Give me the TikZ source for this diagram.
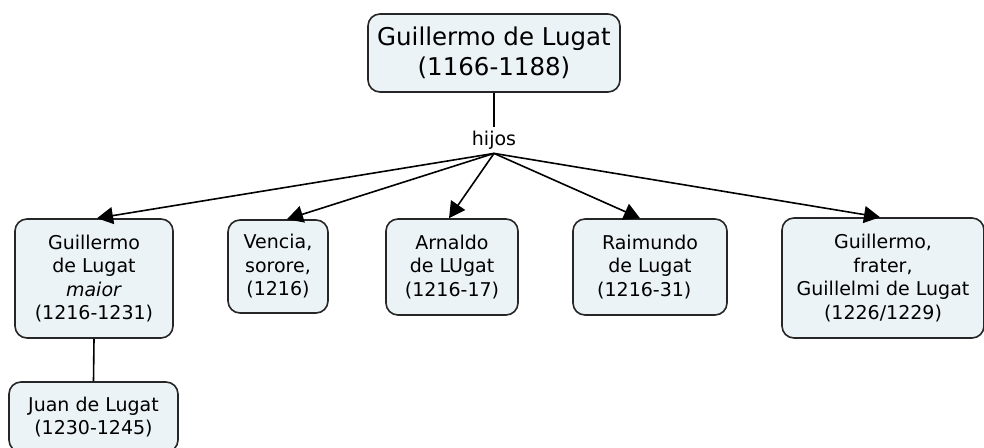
\documentclass[tikz,border=0pt]{standalone}
\usepackage{fontspec}
\setmainfont{DejaVu Sans}
\usetikzlibrary{arrows.meta}
\definecolor{boxfill}{RGB}{236,243,246}

\begin{document}
\begin{tikzpicture}[x=1pt,y=-1pt,
  box/.style={draw=black!85, line width=1.6pt, fill=boxfill, rounded corners=12pt,
    align=center, inner sep=0pt, font=\fontsize{19}{23.5}\selectfont},
  lbl/.style={inner sep=4pt, font=\fontsize{19}{23.5}\selectfont},
  arr/.style={line width=1.6pt, -{Triangle[length=16pt,width=17pt]}}]

\useasboundingbox (0,0) rectangle (984,447);

\node[box, minimum width=252, minimum height=78, font=\fontsize{24.5}{29.5}\selectfont]
  (padre) at (494,53) {Guillermo de Lugat\\(1166-1188)};

\node[lbl] (hijos) at (494,140) {hijos};

\node[box, minimum width=158, minimum height=119] (mayor) at (94,278.5)
  {Guillermo\\de Lugat\\\textit{maior}\\(1216-1231)};
\node[box, minimum width=100, minimum height=93] (vencia) at (278,266.5)
  {Vencia,\\sorore,\\(1216)};
\node[box, minimum width=132, minimum height=96] (arnaldo) at (452,267)
  {Arnaldo\\de LUgat\\(1216-17)};
\node[box, minimum width=154, minimum height=96] (raimundo) at (650,267)
  {Raimundo\\de Lugat\\(1216-31)\hspace*{0.6em}};
\node[box, minimum width=202, minimum height=120] (frater) at (883,278)
  {Guillermo,\\frater,\\Guillelmi de Lugat\\(1226/1229)};

\node[box, minimum width=169, minimum height=70] (juan) at (93.5,417)
  {Juan de Lugat\\(1230-1245)};

% lineas
\draw[line width=1.6pt] (padre.south) -- (hijos.north);
\draw[line width=1.6pt] (mayor.south) -- (juan.north);

\draw[arr] (hijos.south) -- ([xshift=3]mayor.north);
\draw[arr] (hijos.south) -- ([xshift=9]vencia.north);
\draw[arr] (hijos.south) -- ([xshift=-3]arnaldo.north);
\draw[arr] (hijos.south) -- ([xshift=-10]raimundo.north);
\draw[arr] (hijos.south) -- ([xshift=-3]frater.north);

\end{tikzpicture}
\end{document}
